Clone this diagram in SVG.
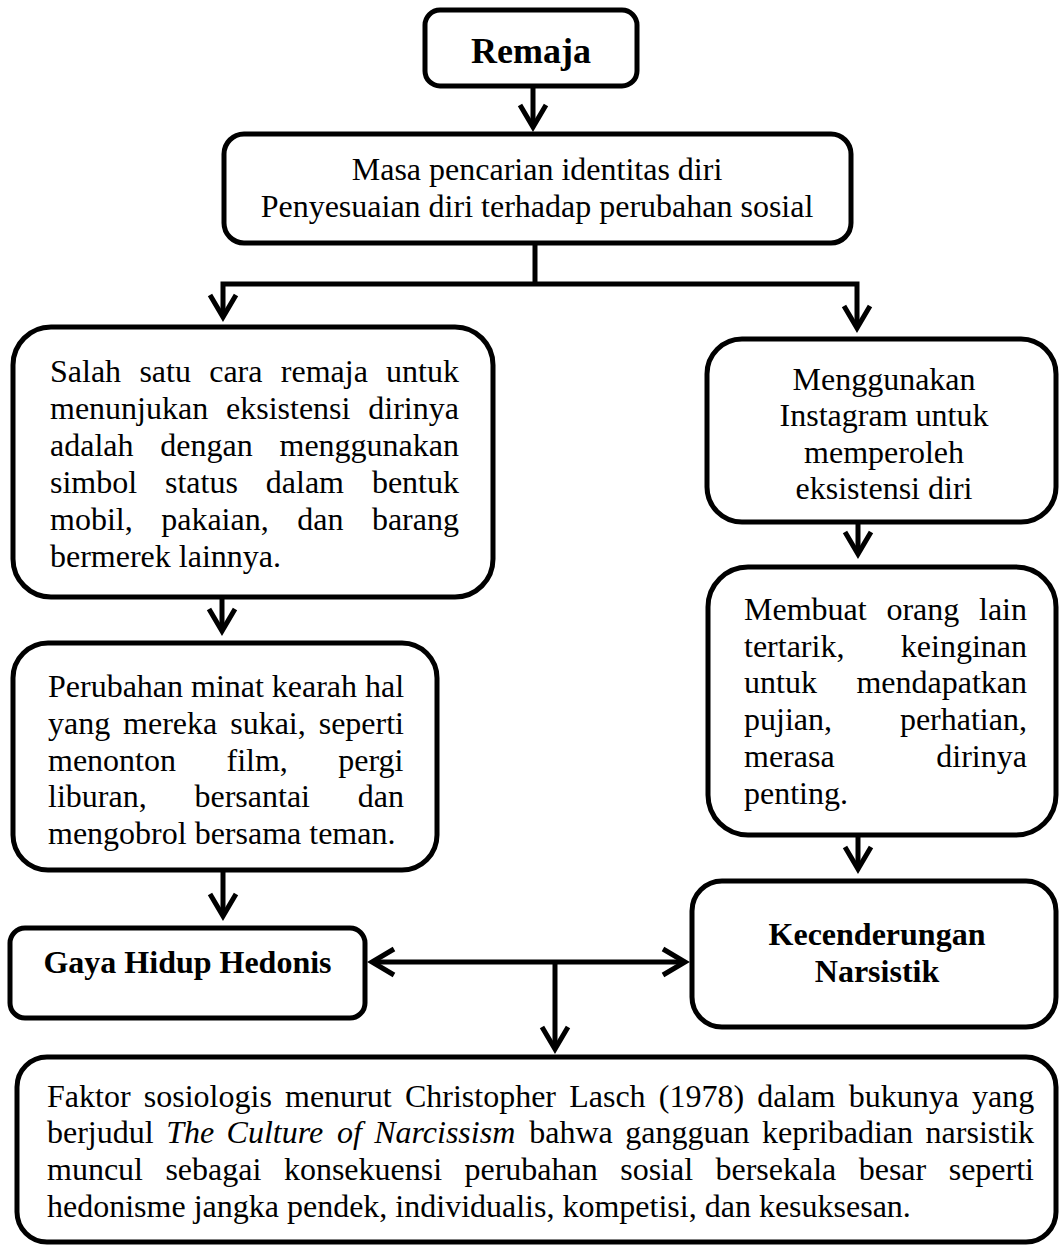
<svg xmlns="http://www.w3.org/2000/svg" width="1059" height="1246" viewBox="0 0 1059 1246">
<style>
.box{fill:#fff;stroke:#000;stroke-width:5}
.t{font-family:"Liberation Serif","Times New Roman",serif;font-size:32px;fill:#000}
.b{font-weight:bold}
.c{text-anchor:middle}
.i{font-style:italic}
.con{fill:none;stroke:#000;stroke-width:5;stroke-linejoin:miter}
</style>
<defs>
<marker id="ah" markerUnits="userSpaceOnUse" markerWidth="40" markerHeight="40" viewBox="-30 -20 40 40" refX="0" refY="0" orient="auto-start-reverse" overflow="visible">
<path d="M-22,-13 L0,0 L-22,13" fill="none" stroke="#000" stroke-width="5"/>
</marker>
</defs>
<rect width="1059" height="1246" fill="#fff"/>

<g id="connectors">
<path class="con" d="M533 86 V127" marker-end="url(#ah)"/>
<path class="con" d="M535 243 V284"/>
<path class="con" d="M223 317 V284 H857 V328" marker-start="url(#ah)" marker-end="url(#ah)"/>
<path class="con" d="M222 597 V631" marker-end="url(#ah)"/>
<path class="con" d="M858 522 V554" marker-end="url(#ah)"/>
<path class="con" d="M223 870 V916" marker-end="url(#ah)"/>
<path class="con" d="M858 835 V869" marker-end="url(#ah)"/>
<path class="con" d="M372 962 H685" marker-start="url(#ah)" marker-end="url(#ah)"/>
<path class="con" d="M555 962 V1049" marker-end="url(#ah)"/>
</g>

<g id="remaja">
<rect class="box" x="425" y="10" width="212" height="76" rx="15"/>
<text class="t b c" x="531" y="63" style="font-size:36px">Remaja</text>
</g>

<g id="masa">
<rect class="box" x="224" y="134" width="627" height="109" rx="20"/>
<text class="t c" x="537" y="180">Masa pencarian identitas diri</text>
<text class="t c" x="537" y="217">Penyesuaian diri terhadap perubahan sosial</text>
</g>

<g id="salah-satu">
<rect class="box" x="13" y="327" width="480" height="270" rx="38"/>
<text class="t" y="382"><tspan x="50">Salah</tspan><tspan x="139.4">satu</tspan><tspan x="209.2">cara</tspan><tspan x="280.8">remaja</tspan><tspan x="386.1">untuk</tspan></text>
<text class="t" y="419"><tspan x="50">menunjukan</tspan><tspan x="226">eksistensi</tspan><tspan x="368.3">dirinya</tspan></text>
<text class="t" y="456"><tspan x="50">adalah</tspan><tspan x="160.3">dengan</tspan><tspan x="279.5">menggunakan</tspan></text>
<text class="t" y="493"><tspan x="50">simbol</tspan><tspan x="165">status</tspan><tspan x="265.8">dalam</tspan><tspan x="371.9">bentuk</tspan></text>
<text class="t" y="530"><tspan x="50">mobil,</tspan><tspan x="161.2">pakaian,</tspan><tspan x="297.2">dan</tspan><tspan x="371.9">barang</tspan></text>
<text class="t" x="50" y="567">bermerek lainnya.</text>
</g>

<g id="perubahan-minat">
<rect class="box" x="13" y="643" width="424" height="227" rx="35"/>
<text class="t" y="697"><tspan x="48">Perubahan</tspan><tspan x="191">minat</tspan><tspan x="271.8">kearah</tspan><tspan x="365">hal</tspan></text>
<text class="t" y="734"><tspan x="48">yang</tspan><tspan x="123.1">mereka</tspan><tspan x="230.2">sukai,</tspan><tspan x="318.7">seperti</tspan></text>
<text class="t" y="771"><tspan x="48">menonton</tspan><tspan x="226.5">film,</tspan><tspan x="338.2">pergi</tspan></text>
<text class="t" y="807"><tspan x="48">liburan,</tspan><tspan x="194.5">bersantai</tspan><tspan x="357.8">dan</tspan></text>
<text class="t" x="48" y="844">mengobrol bersama teman.</text>
</g>

<g id="instagram">
<rect class="box" x="707" y="339" width="349" height="183" rx="35"/>
<text class="t c" x="884" y="390">Menggunakan</text>
<text class="t c" x="884" y="426">Instagram untuk</text>
<text class="t c" x="884" y="463">memperoleh</text>
<text class="t c" x="884" y="499">eksistensi diri</text>
</g>

<g id="membuat">
<rect class="box" x="708" y="567" width="348" height="268" rx="40"/>
<text class="t" y="620"><tspan x="744">Membuat</tspan><tspan x="886.4">orang</tspan><tspan x="979">lain</tspan></text>
<text class="t" y="657"><tspan x="744">tertarik,</tspan><tspan x="900.8">keinginan</tspan></text>
<text class="t" y="693"><tspan x="744">untuk</tspan><tspan x="856.4">mendapatkan</tspan></text>
<text class="t" y="730"><tspan x="744">pujian,</tspan><tspan x="899.9">perhatian,</tspan></text>
<text class="t" y="767"><tspan x="744">merasa</tspan><tspan x="936.3">dirinya</tspan></text>
<text class="t" x="744" y="804">penting.</text>
</g>

<g id="gaya-hidup">
<rect class="box" x="10" y="928" width="355" height="90" rx="15"/>
<text class="t b c" x="187.5" y="973">Gaya Hidup Hedonis</text>
</g>

<g id="kecenderungan">
<rect class="box" x="692" y="881" width="364" height="146" rx="30"/>
<text class="t b c" x="877" y="945">Kecenderungan</text>
<text class="t b c" x="877" y="982">Narsistik</text>
</g>

<g id="faktor">
<rect class="box" x="17" y="1057" width="1039" height="185" rx="30"/>
<text class="t" y="1107"><tspan x="47">Faktor</tspan><tspan x="143.8">sosiologis</tspan><tspan x="285">menurut</tspan><tspan x="404.9">Christopher</tspan><tspan x="569.2">Lasch</tspan><tspan x="658.8">(1978)</tspan><tspan x="757.3">dalam</tspan><tspan x="848.7">bukunya</tspan><tspan x="972.1">yang</tspan></text>
<text class="t" y="1143"><tspan x="47">berjudul</tspan><tspan class="i" x="166.2">The</tspan><tspan class="i" x="226.6">Culture</tspan><tspan class="i" x="336.9">of</tspan><tspan class="i" x="374.2">Narcissism</tspan><tspan x="529.3">bahwa</tspan><tspan x="625.2">gangguan</tspan><tspan x="762">kepribadian</tspan><tspan x="925.6">narsistik</tspan></text>
<text class="t" y="1180"><tspan x="47">muncul</tspan><tspan x="165.4">sebagai</tspan><tspan x="283.9">konsekuensi</tspan><tspan x="464.5">perubahan</tspan><tspan x="620.2">sosial</tspan><tspan x="715.5">bersekala</tspan><tspan x="858.7">besar</tspan><tspan x="948.7">seperti</tspan></text>
<text class="t" x="47" y="1217">hedonisme jangka pendek, individualis, kompetisi, dan kesuksesan.</text>
</g>
</svg>
